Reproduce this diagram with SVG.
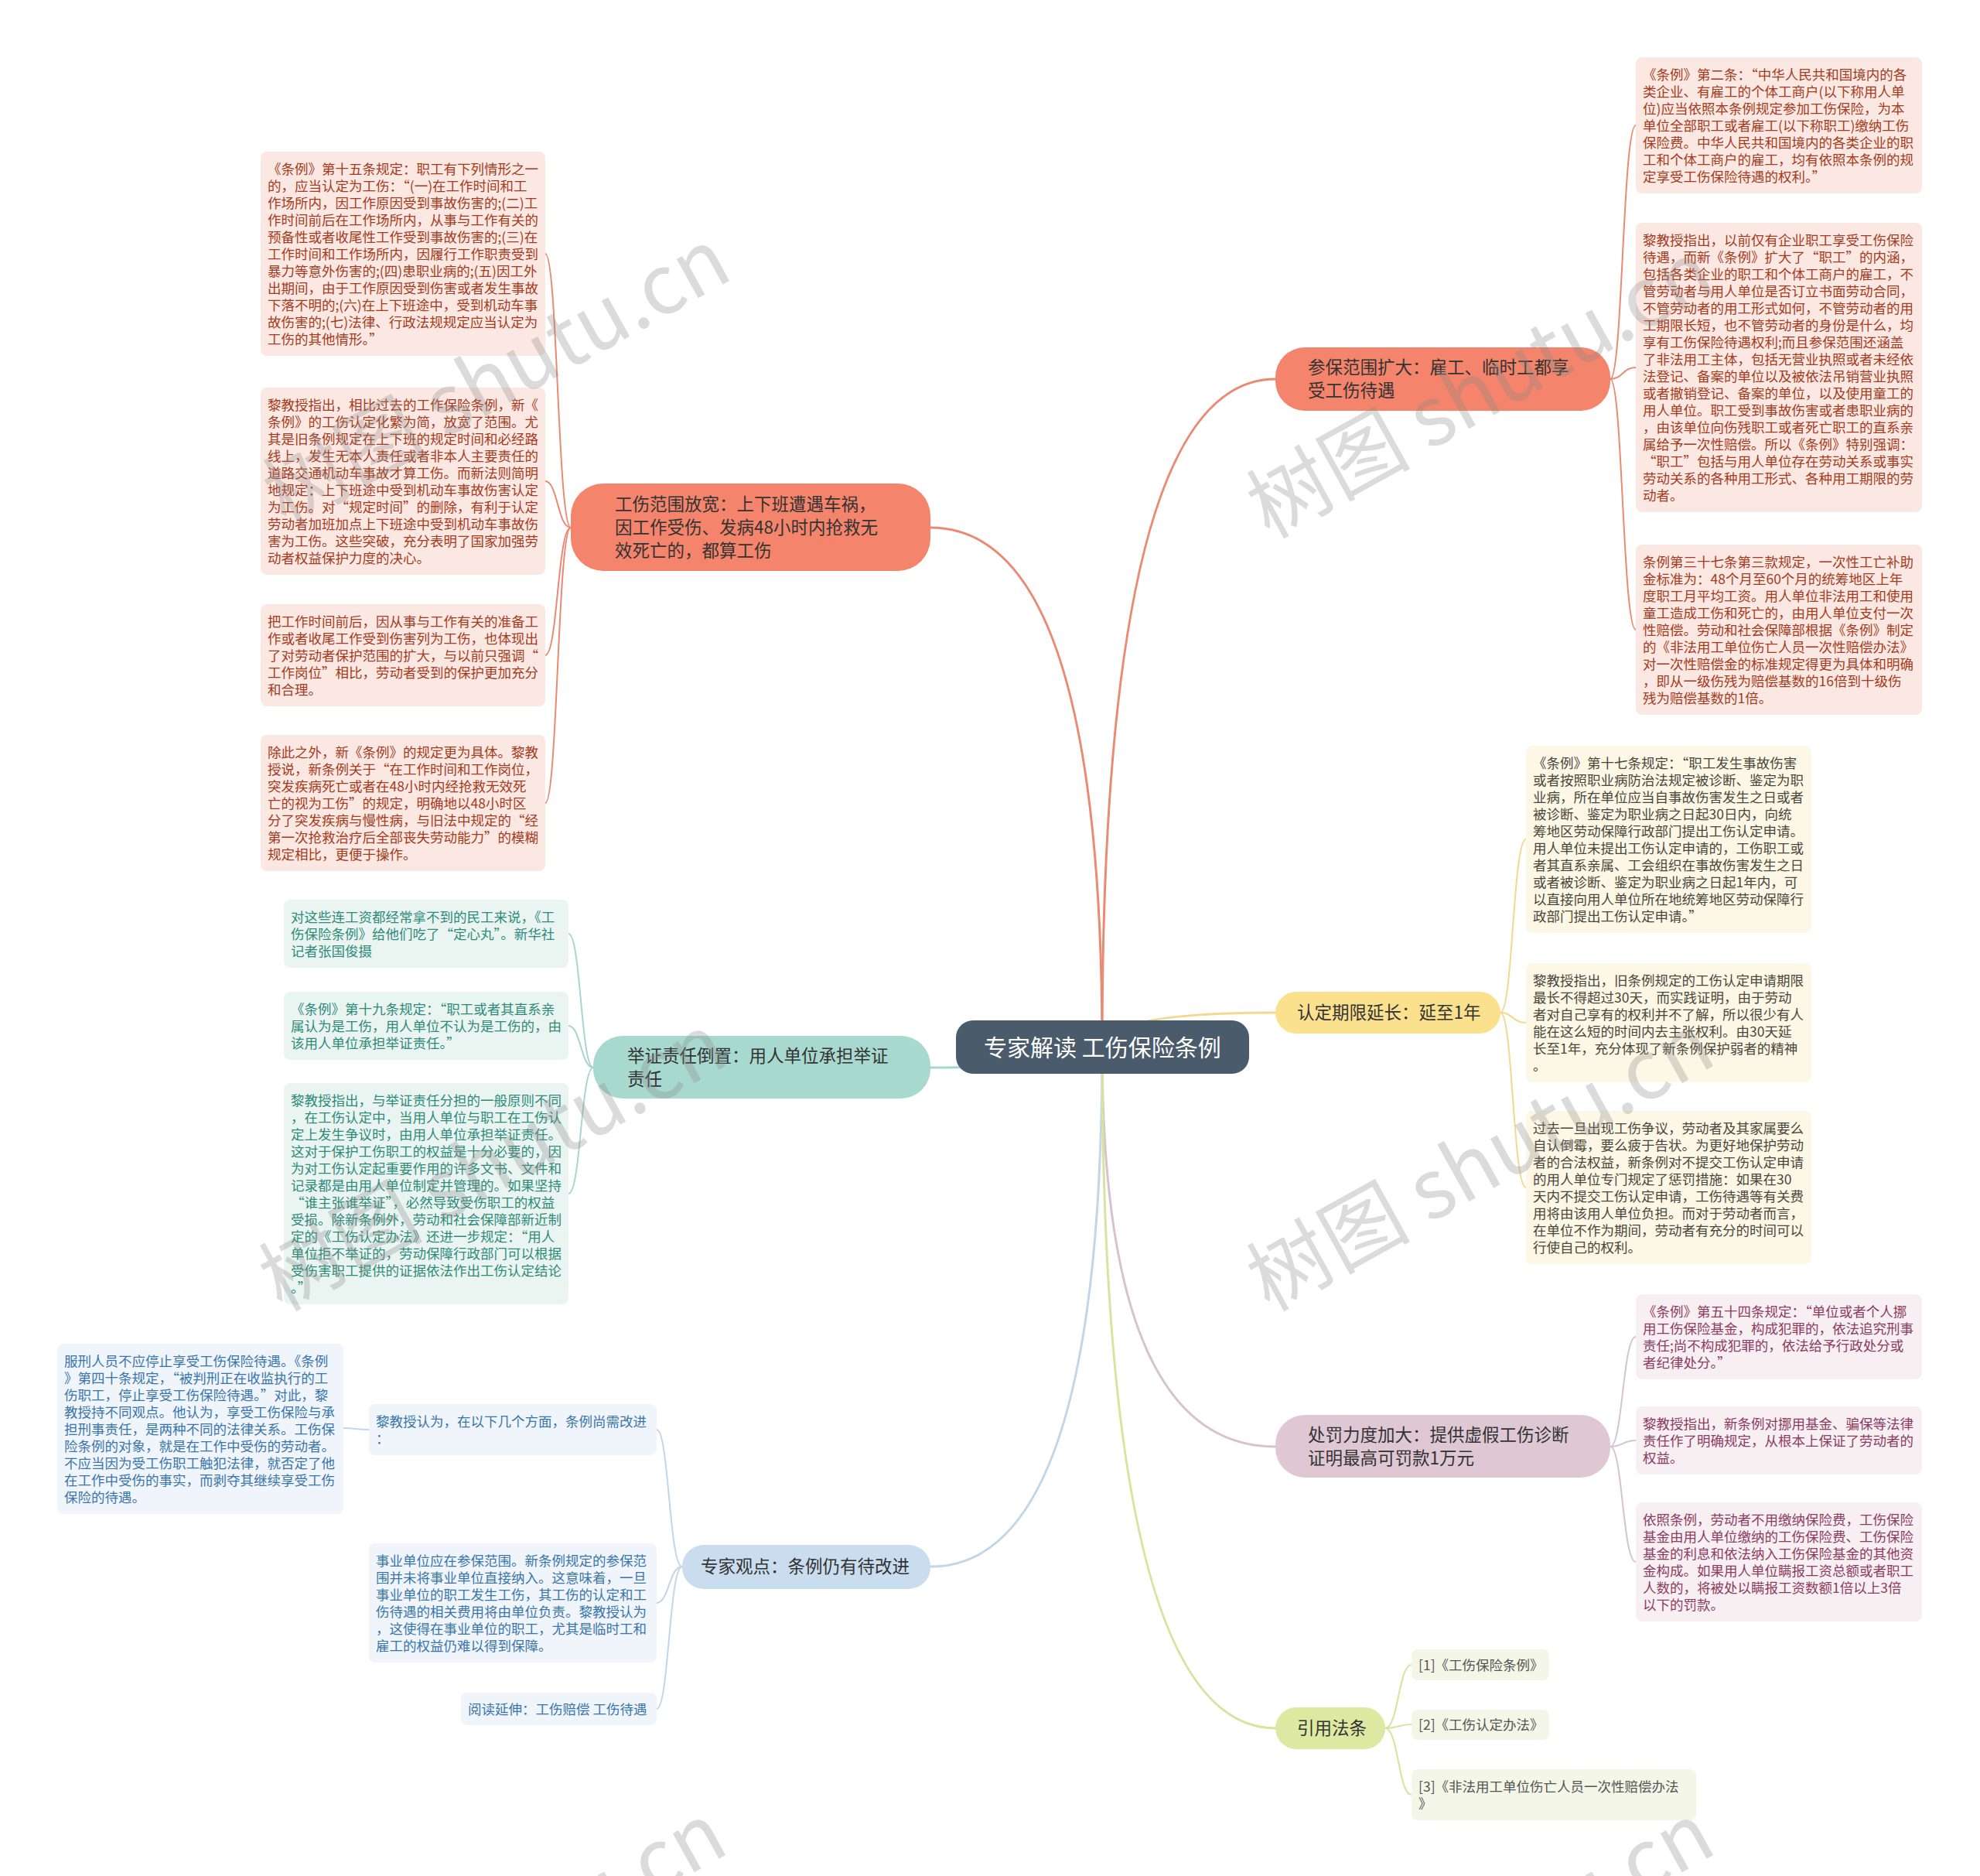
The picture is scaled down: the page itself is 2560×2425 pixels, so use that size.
<svg xmlns="http://www.w3.org/2000/svg" width="2560" height="2425" viewBox="0 0 2560 2425">
<style>
text{font-family:"Noto Sans CJK SC","Noto Sans",sans-serif}
.lf{font-size:17.5px}
.mn{font-size:22.5px;fill:#333}
.e{fill:none;stroke-width:3;stroke-linecap:round}
.le{fill:none;stroke-width:2}
.cor{stroke:#ea8a72}.yel{stroke:#f4d88e}.tea{stroke:#a8d6cc}.mau{stroke:#d6c3cd}.blu{stroke:#c2d6e9}.grn{stroke:#d8e39d}
.bc{fill:#fce8e2}.tc{fill:#a33b21}
.by{fill:#fdf7e6}.ty{fill:#4b463c}
.bt{fill:#eaf5f2}.tt{fill:#2e8b7a}
.bb{fill:#eff5fa}.tb{fill:#3a75aa}
.bm{fill:#f7eff2}.tm{fill:#8c3b61}
.bg{fill:#f4f6e7}.tg{fill:#555}
.wm{font-size:106px;fill:#8a8a8a;opacity:.3}
</style>
<rect width="2560" height="2425" fill="#fff"/>
<g id="connectors">
<path class="e cor" d="M1425,1354 Q1425,682 1203,682"/>
<path class="e cor" d="M1425,1354 Q1425,490 1649,490"/>
<path class="e yel" d="M1425,1354 Q1425,1309 1649,1309"/>
<path class="e tea" d="M1425,1354 Q1425,1380 1203,1380"/>
<path class="e mau" d="M1425,1354 Q1425,1870 1649,1870"/>
<path class="e blu" d="M1425,1354 Q1425,2025 1203,2025"/>
<path class="e grn" d="M1425,1354 Q1425,2234 1649,2234"/>
<path class="le cor" d="M738,682 C721,682 721,328 705,328"/>
<path class="le cor" d="M738,682 C721,682 721,622 705,622"/>
<path class="le cor" d="M738,682 C721,682 721,847 705,847"/>
<path class="le cor" d="M738,682 C721,682 721,1038 705,1038"/>
<path class="le cor" d="M2082,490 C2098,490 2098,162 2115,162"/>
<path class="le cor" d="M2082,490 C2098,490 2098,475 2115,475"/>
<path class="le cor" d="M2082,490 C2098,490 2098,814 2115,814"/>
<path class="le yel" d="M1940,1309 C1956,1309 1956,1085 1973,1085"/>
<path class="le yel" d="M1940,1309 C1956,1309 1956,1322 1973,1322"/>
<path class="le yel" d="M1940,1309 C1956,1309 1956,1535 1973,1535"/>
<path class="le tea" d="M767,1380 C751,1380 751,1207 735,1207"/>
<path class="le tea" d="M767,1380 C751,1380 751,1326 735,1326"/>
<path class="le tea" d="M767,1380 C751,1380 751,1543 735,1543"/>
<path class="le mau" d="M2082,1870 C2098,1870 2098,1728 2115,1728"/>
<path class="le mau" d="M2082,1870 C2098,1870 2098,1862 2115,1862"/>
<path class="le mau" d="M2082,1870 C2098,1870 2098,2019 2115,2019"/>
<path class="le blu" d="M882,2025 C865,2025 865,1848 849,1848"/>
<path class="le blu" d="M882,2025 C865,2025 865,2072 849,2072"/>
<path class="le blu" d="M882,2025 C865,2025 865,2209 849,2209"/>
<path class="le blu" d="M477,1848 C460,1848 460,1846 444,1846"/>
<path class="le grn" d="M1791,2234 C1808,2234 1808,2152 1825,2152"/>
<path class="le grn" d="M1791,2234 C1808,2234 1808,2229 1825,2229"/>
<path class="le grn" d="M1791,2234 C1808,2234 1808,2320 1825,2320"/>
</g>
<g id="root">
<rect x="1236" y="1319" width="379" height="69" rx="22" fill="#4a5b6b"/>
<text x="1272" y="1365" font-size="30" fill="#fff">专家解读 工伤保险条例</text>
</g>
<g id="b1">
<rect x="738" y="625" width="465" height="113" rx="42" fill="#f4846b"/>
<text class="mn" x="795" y="660">工伤范围放宽：上下班遭遇车祸，<tspan x="795" dy="30">因工作受伤、发病48小时内抢救无</tspan><tspan x="795" dy="30">效死亡的，都算工伤</tspan></text>
</g>
<g id="b2">
<rect x="1649" y="449" width="433" height="82" rx="38" fill="#f4846b"/>
<text class="mn" x="1691" y="483">参保范围扩大：雇工、临时工都享<tspan x="1691" dy="30">受工伤待遇</tspan></text>
</g>
<g id="b3">
<rect x="1649" y="1282" width="291" height="54" rx="27" fill="#fbe08d"/>
<text class="mn" x="1677" y="1317">认定期限延长：延至1年</text>
</g>
<g id="b4">
<rect x="767" y="1339" width="436" height="81" rx="38" fill="#a8d9cf"/>
<text class="mn" x="811" y="1373">举证责任倒置：用人单位承担举证<tspan x="811" dy="30">责任</tspan></text>
</g>
<g id="b5">
<rect x="1649" y="1829" width="433" height="81" rx="38" fill="#dfc8d3"/>
<text class="mn" x="1691" y="1863">处罚力度加大：提供虚假工伤诊断<tspan x="1691" dy="30">证明最高可罚款1万元</tspan></text>
</g>
<g id="b6">
<rect x="882" y="1997" width="321" height="57" rx="28" fill="#c9ddef"/>
<text class="mn" x="906" y="2033">专家观点：条例仍有待改进</text>
</g>
<g id="b7">
<rect x="1649" y="2207" width="142" height="54" rx="27" fill="#dde8a0"/>
<text class="mn" x="1677" y="2242">引用法条</text>
</g>
<g id="L1"><rect class="bc" x="337" y="196" width="368" height="264" rx="8"/>
<text class="lf tc" x="346" y="224.5">《条例》第十五条规定：职工有下列情形之一<tspan x="346" dy="22">的，应当认定为工伤：“(一)在工作时间和工</tspan><tspan x="346" dy="22">作场所内，因工作原因受到事故伤害的;(二)工</tspan><tspan x="346" dy="22">作时间前后在工作场所内，从事与工作有关的</tspan><tspan x="346" dy="22">预备性或者收尾性工作受到事故伤害的;(三)在</tspan><tspan x="346" dy="22">工作时间和工作场所内，因履行工作职责受到</tspan><tspan x="346" dy="22">暴力等意外伤害的;(四)患职业病的;(五)因工外</tspan><tspan x="346" dy="22">出期间，由于工作原因受到伤害或者发生事故</tspan><tspan x="346" dy="22">下落不明的;(六)在上下班途中，受到机动车事</tspan><tspan x="346" dy="22">故伤害的;(七)法律、行政法规规定应当认定为</tspan><tspan x="346" dy="22">工伤的其他情形。”</tspan></text></g>
<g id="L2"><rect class="bc" x="337" y="501" width="368" height="242" rx="8"/>
<text class="lf tc" x="346" y="529.5">黎教授指出，相比过去的工作保险条例，新《<tspan x="346" dy="22">条例》的工伤认定化繁为简，放宽了范围。尤</tspan><tspan x="346" dy="22">其是旧条例规定在上下班的规定时间和必经路</tspan><tspan x="346" dy="22">线上，发生无本人责任或者非本人主要责任的</tspan><tspan x="346" dy="22">道路交通机动车事故才算工伤。而新法则简明</tspan><tspan x="346" dy="22">地规定：上下班途中受到机动车事故伤害认定</tspan><tspan x="346" dy="22">为工伤。对“规定时间”的删除，有利于认定</tspan><tspan x="346" dy="22">劳动者加班加点上下班途中受到机动车事故伤</tspan><tspan x="346" dy="22">害为工伤。这些突破，充分表明了国家加强劳</tspan><tspan x="346" dy="22">动者权益保护力度的决心。</tspan></text></g>
<g id="L3"><rect class="bc" x="337" y="781" width="368" height="132" rx="8"/>
<text class="lf tc" x="346" y="809.5">把工作时间前后，因从事与工作有关的准备工<tspan x="346" dy="22">作或者收尾工作受到伤害列为工伤，也体现出</tspan><tspan x="346" dy="22">了对劳动者保护范围的扩大，与以前只强调“</tspan><tspan x="346" dy="22">工作岗位”相比，劳动者受到的保护更加充分</tspan><tspan x="346" dy="22">和合理。</tspan></text></g>
<g id="L4"><rect class="bc" x="337" y="950" width="368" height="176" rx="8"/>
<text class="lf tc" x="346" y="978.5">除此之外，新《条例》的规定更为具体。黎教<tspan x="346" dy="22">授说，新条例关于“在工作时间和工作岗位，</tspan><tspan x="346" dy="22">突发疾病死亡或者在48小时内经抢救无效死</tspan><tspan x="346" dy="22">亡的视为工伤”的规定，明确地以48小时区</tspan><tspan x="346" dy="22">分了突发疾病与慢性病，与旧法中规定的“经</tspan><tspan x="346" dy="22">第一次抢救治疗后全部丧失劳动能力”的模糊</tspan><tspan x="346" dy="22">规定相比，更便于操作。</tspan></text></g>
<g id="R1"><rect class="bc" x="2115" y="74" width="370" height="176" rx="8"/>
<text class="lf tc" x="2124" y="102.5">《条例》第二条：“中华人民共和国境内的各<tspan x="2124" dy="22">类企业、有雇工的个体工商户(以下称用人单</tspan><tspan x="2124" dy="22">位)应当依照本条例规定参加工伤保险，为本</tspan><tspan x="2124" dy="22">单位全部职工或者雇工(以下称职工)缴纳工伤</tspan><tspan x="2124" dy="22">保险费。中华人民共和国境内的各类企业的职</tspan><tspan x="2124" dy="22">工和个体工商户的雇工，均有依照本条例的规</tspan><tspan x="2124" dy="22">定享受工伤保险待遇的权利。”</tspan></text></g>
<g id="R2"><rect class="bc" x="2115" y="288" width="370" height="374" rx="8"/>
<text class="lf tc" x="2124" y="316.5">黎教授指出，以前仅有企业职工享受工伤保险<tspan x="2124" dy="22">待遇，而新《条例》扩大了“职工”的内涵，</tspan><tspan x="2124" dy="22">包括各类企业的职工和个体工商户的雇工，不</tspan><tspan x="2124" dy="22">管劳动者与用人单位是否订立书面劳动合同，</tspan><tspan x="2124" dy="22">不管劳动者的用工形式如何，不管劳动者的用</tspan><tspan x="2124" dy="22">工期限长短，也不管劳动者的身份是什么，均</tspan><tspan x="2124" dy="22">享有工伤保险待遇权利;而且参保范围还涵盖</tspan><tspan x="2124" dy="22">了非法用工主体，包括无营业执照或者未经依</tspan><tspan x="2124" dy="22">法登记、备案的单位以及被依法吊销营业执照</tspan><tspan x="2124" dy="22">或者撤销登记、备案的单位，以及使用童工的</tspan><tspan x="2124" dy="22">用人单位。职工受到事故伤害或者患职业病的</tspan><tspan x="2124" dy="22">，由该单位向伤残职工或者死亡职工的直系亲</tspan><tspan x="2124" dy="22">属给予一次性赔偿。所以《条例》特别强调：</tspan><tspan x="2124" dy="22">“职工”包括与用人单位存在劳动关系或事实</tspan><tspan x="2124" dy="22">劳动关系的各种用工形式、各种用工期限的劳</tspan><tspan x="2124" dy="22">动者。</tspan></text></g>
<g id="R3"><rect class="bc" x="2115" y="704" width="370" height="220" rx="8"/>
<text class="lf tc" x="2124" y="732.5">条例第三十七条第三款规定，一次性工亡补助<tspan x="2124" dy="22">金标准为：48个月至60个月的统筹地区上年</tspan><tspan x="2124" dy="22">度职工月平均工资。用人单位非法用工和使用</tspan><tspan x="2124" dy="22">童工造成工伤和死亡的，由用人单位支付一次</tspan><tspan x="2124" dy="22">性赔偿。劳动和社会保障部根据《条例》制定</tspan><tspan x="2124" dy="22">的《非法用工单位伤亡人员一次性赔偿办法》</tspan><tspan x="2124" dy="22">对一次性赔偿金的标准规定得更为具体和明确</tspan><tspan x="2124" dy="22">，即从一级伤残为赔偿基数的16倍到十级伤</tspan><tspan x="2124" dy="22">残为赔偿基数的1倍。</tspan></text></g>
<g id="Y1"><rect class="by" x="1973" y="964" width="369" height="242" rx="8"/>
<text class="lf ty" x="1982" y="992.5">《条例》第十七条规定：“职工发生事故伤害<tspan x="1982" dy="22">或者按照职业病防治法规定被诊断、鉴定为职</tspan><tspan x="1982" dy="22">业病，所在单位应当自事故伤害发生之日或者</tspan><tspan x="1982" dy="22">被诊断、鉴定为职业病之日起30日内，向统</tspan><tspan x="1982" dy="22">筹地区劳动保障行政部门提出工伤认定申请。</tspan><tspan x="1982" dy="22">用人单位未提出工伤认定申请的，工伤职工或</tspan><tspan x="1982" dy="22">者其直系亲属、工会组织在事故伤害发生之日</tspan><tspan x="1982" dy="22">或者被诊断、鉴定为职业病之日起1年内，可</tspan><tspan x="1982" dy="22">以直接向用人单位所在地统筹地区劳动保障行</tspan><tspan x="1982" dy="22">政部门提出工伤认定申请。”</tspan></text></g>
<g id="Y2"><rect class="by" x="1973" y="1245" width="369" height="154" rx="8"/>
<text class="lf ty" x="1982" y="1273.5">黎教授指出，旧条例规定的工伤认定申请期限<tspan x="1982" dy="22">最长不得超过30天，而实践证明，由于劳动</tspan><tspan x="1982" dy="22">者对自己享有的权利并不了解，所以很少有人</tspan><tspan x="1982" dy="22">能在这么短的时间内去主张权利。由30天延</tspan><tspan x="1982" dy="22">长至1年，充分体现了新条例保护弱者的精神</tspan><tspan x="1982" dy="22">。</tspan></text></g>
<g id="Y3"><rect class="by" x="1973" y="1436" width="369" height="198" rx="8"/>
<text class="lf ty" x="1982" y="1464.5">过去一旦出现工伤争议，劳动者及其家属要么<tspan x="1982" dy="22">自认倒霉，要么疲于告状。为更好地保护劳动</tspan><tspan x="1982" dy="22">者的合法权益，新条例对不提交工伤认定申请</tspan><tspan x="1982" dy="22">的用人单位专门规定了惩罚措施：如果在30</tspan><tspan x="1982" dy="22">天内不提交工伤认定申请，工伤待遇等有关费</tspan><tspan x="1982" dy="22">用将由该用人单位负担。而对于劳动者而言，</tspan><tspan x="1982" dy="22">在单位不作为期间，劳动者有充分的时间可以</tspan><tspan x="1982" dy="22">行使自己的权利。</tspan></text></g>
<g id="T1"><rect class="bt" x="367" y="1163" width="368" height="88" rx="8"/>
<text class="lf tt" x="376" y="1191.5">对这些连工资都经常拿不到的民工来说，《工<tspan x="376" dy="22">伤保险条例》给他们吃了“定心丸”。新华社</tspan><tspan x="376" dy="22">记者张国俊摄</tspan></text></g>
<g id="T2"><rect class="bt" x="367" y="1282" width="368" height="88" rx="8"/>
<text class="lf tt" x="376" y="1310.5">《条例》第十九条规定：“职工或者其直系亲<tspan x="376" dy="22">属认为是工伤，用人单位不认为是工伤的，由</tspan><tspan x="376" dy="22">该用人单位承担举证责任。”</tspan></text></g>
<g id="T3"><rect class="bt" x="367" y="1400" width="368" height="286" rx="8"/>
<text class="lf tt" x="376" y="1428.5">黎教授指出，与举证责任分担的一般原则不同<tspan x="376" dy="22">，在工伤认定中，当用人单位与职工在工伤认</tspan><tspan x="376" dy="22">定上发生争议时，由用人单位承担举证责任。</tspan><tspan x="376" dy="22">这对于保护工伤职工的权益是十分必要的，因</tspan><tspan x="376" dy="22">为对工伤认定起重要作用的许多文书、文件和</tspan><tspan x="376" dy="22">记录都是由用人单位制定并管理的。如果坚持</tspan><tspan x="376" dy="22">“谁主张谁举证”，必然导致受伤职工的权益</tspan><tspan x="376" dy="22">受损。除新条例外，劳动和社会保障部新近制</tspan><tspan x="376" dy="22">定的《工伤认定办法》还进一步规定：“用人</tspan><tspan x="376" dy="22">单位拒不举证的，劳动保障行政部门可以根据</tspan><tspan x="376" dy="22">受伤害职工提供的证据依法作出工伤认定结论</tspan><tspan x="376" dy="22">。”</tspan></text></g>
<g id="B1"><rect class="bb" x="74" y="1737" width="370" height="220" rx="8"/>
<text class="lf tb" x="83" y="1765.5">服刑人员不应停止享受工伤保险待遇。《条例<tspan x="83" dy="22">》第四十条规定，“被判刑正在收监执行的工</tspan><tspan x="83" dy="22">伤职工，停止享受工伤保险待遇。”对此，黎</tspan><tspan x="83" dy="22">教授持不同观点。他认为，享受工伤保险与承</tspan><tspan x="83" dy="22">担刑事责任，是两种不同的法律关系。工伤保</tspan><tspan x="83" dy="22">险条例的对象，就是在工作中受伤的劳动者。</tspan><tspan x="83" dy="22">不应当因为受工伤职工触犯法律，就否定了他</tspan><tspan x="83" dy="22">在工作中受伤的事实，而剥夺其继续享受工伤</tspan><tspan x="83" dy="22">保险的待遇。</tspan></text></g>
<g id="B2"><rect class="bb" x="477" y="1815" width="372" height="66" rx="8"/>
<text class="lf tb" x="486" y="1843.5">黎教授认为，在以下几个方面，条例尚需改进<tspan x="486" dy="22">：</tspan></text></g>
<g id="B3"><rect class="bb" x="477" y="1995" width="372" height="154" rx="8"/>
<text class="lf tb" x="486" y="2023.5">事业单位应在参保范围。新条例规定的参保范<tspan x="486" dy="22">围并未将事业单位直接纳入。这意味着，一旦</tspan><tspan x="486" dy="22">事业单位的职工发生工伤，其工伤的认定和工</tspan><tspan x="486" dy="22">伤待遇的相关费用将由单位负责。黎教授认为</tspan><tspan x="486" dy="22">，这使得在事业单位的职工，尤其是临时工和</tspan><tspan x="486" dy="22">雇工的权益仍难以得到保障。</tspan></text></g>
<g id="B4"><rect class="bb" x="596" y="2188" width="253" height="42" rx="8"/>
<text class="lf tb" x="605" y="2215.5">阅读延伸：工伤赔偿 工伤待遇</text></g>
<g id="M1"><rect class="bm" x="2115" y="1673" width="370" height="110" rx="8"/>
<text class="lf tm" x="2124" y="1701.5">《条例》第五十四条规定：“单位或者个人挪<tspan x="2124" dy="22">用工伤保险基金，构成犯罪的，依法追究刑事</tspan><tspan x="2124" dy="22">责任;尚不构成犯罪的，依法给予行政处分或</tspan><tspan x="2124" dy="22">者纪律处分。”</tspan></text></g>
<g id="M2"><rect class="bm" x="2115" y="1818" width="370" height="88" rx="8"/>
<text class="lf tm" x="2124" y="1846.5">黎教授指出，新条例对挪用基金、骗保等法律<tspan x="2124" dy="22">责任作了明确规定，从根本上保证了劳动者的</tspan><tspan x="2124" dy="22">权益。</tspan></text></g>
<g id="M3"><rect class="bm" x="2115" y="1942" width="370" height="154" rx="8"/>
<text class="lf tm" x="2124" y="1970.5">依照条例，劳动者不用缴纳保险费，工伤保险<tspan x="2124" dy="22">基金由用人单位缴纳的工伤保险费、工伤保险</tspan><tspan x="2124" dy="22">基金的利息和依法纳入工伤保险基金的其他资</tspan><tspan x="2124" dy="22">金构成。如果用人单位瞒报工资总额或者职工</tspan><tspan x="2124" dy="22">人数的，将被处以瞒报工资数额1倍以上3倍</tspan><tspan x="2124" dy="22">以下的罚款。</tspan></text></g>
<g id="G1"><rect class="bg" x="1825" y="2132" width="178" height="40" rx="8"/>
<text class="lf tg" x="1834" y="2158.5">[1]《工伤保险条例》</text></g>
<g id="G2"><rect class="bg" x="1825" y="2210" width="178" height="39" rx="8"/>
<text class="lf tg" x="1834" y="2236">[2]《工伤认定办法》</text></g>
<g id="G3"><rect class="bg" x="1825" y="2287" width="368" height="66" rx="8"/>
<text class="lf tg" x="1834" y="2315.5">[3]《非法用工单位伤亡人员一次性赔偿办法<tspan x="1834" dy="22">》</tspan></text></g>
<g id="watermark">
<text class="wm" text-anchor="middle" transform="translate(660,520) rotate(-29)">树图 shutu.cn</text>
<text class="wm" text-anchor="middle" transform="translate(1932,536) rotate(-29)">树图 shutu.cn</text>
<text class="wm" text-anchor="middle" transform="translate(655,1535) rotate(-29)">树图 shutu.cn</text>
<text class="wm" text-anchor="middle" transform="translate(1932,1535) rotate(-29)">树图 shutu.cn</text>
<text class="wm" text-anchor="middle" transform="translate(655,2555) rotate(-29)">树图 shutu.cn</text>
<text class="wm" text-anchor="middle" transform="translate(1932,2555) rotate(-29)">树图 shutu.cn</text>
</g>
</svg>
